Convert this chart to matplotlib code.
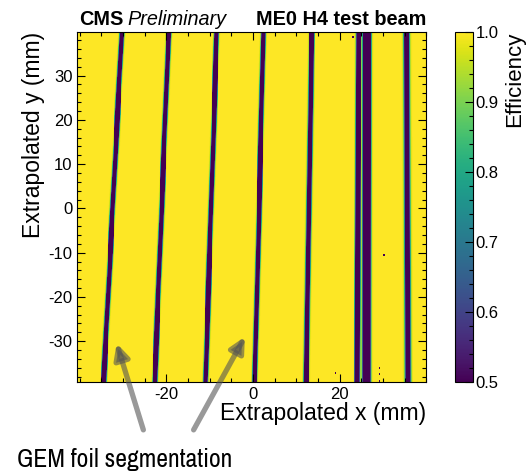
"""
Efficiency map of the ME0 chamber at the H4 test beam.
Inefficient strips come from the GEM foil sector gaps.
"""
import numpy as np
import matplotlib
matplotlib.use('Agg')
import matplotlib.pyplot as plt
from matplotlib import font_manager
from matplotlib.ticker import MultipleLocator

# Detector area covered by the tracks (mm)
x_range = (-40.6, 40.0)
y_range = (-39.2, 39.9)
bin_size = 0.2

# Gap centres at the top and bottom edge of the map (mm) and their half widths
gap_x_top = [-30.3, -19.5, -8.4, 2.4, 13.5, 24.4, 26.3, 35.4]
gap_x_bottom = [-34.5, -22.7, -11.0, 0.4, 12.3, 24.0, 26.2, 35.7]
gap_halfwidth = [0.5, 0.5, 0.5, 0.5, 0.52, 0.5, 0.9, 0.58]
gap_edge = [0.08, 0.08, 0.08, 0.08, 0.09, 0.09, 0.1, 0.12]

# Isolated dead bins (mm)
dead_x = [30.2, 18.9, 29.2, 29.2, 29.2, 22.9]
dead_y = [-10.7, -37.3, -36.0, -37.5, -39.0, 38.7]


def efficiency_map():
    xe = np.arange(x_range[0], x_range[1] + bin_size, bin_size)
    ye = np.arange(y_range[0], y_range[1] + bin_size, bin_size)
    xc = 0.5 * (xe[1:] + xe[:-1])
    yc = 0.5 * (ye[1:] + ye[:-1])
    X, Y = np.meshgrid(xc, yc)
    frac = (Y - y_range[0]) / (y_range[1] - y_range[0])

    eff = np.ones_like(X)
    for xt, xb, w, s in zip(gap_x_top, gap_x_bottom, gap_halfwidth, gap_edge):
        centre = xb + (xt - xb) * frac
        d = np.abs(X - centre)
        eff -= 0.75 / (1.0 + np.exp((d - w) / s))
    for dx, dy in zip(dead_x, dead_y):
        ix = np.argmin(np.abs(xc - dx))
        iy = np.argmin(np.abs(yc - dy))
        eff[iy:iy + 2, ix:ix + 2] = 0.3
    return xe, ye, np.clip(eff, 0.0, 1.0)


def narrow_family():
    # pick a narrow sans face for the annotation if one is installed
    names = [f.name for f in font_manager.fontManager.ttflist]
    for n in names:
        if 'Narrow' in n or 'Condensed' in n:
            return n
    for f in font_manager.fontManager.ttflist:
        if f.stretch in ('condensed', 'semi-condensed', 'extra-condensed'):
            return f.name
    return 'DejaVu Sans'


def main():
    plt.rcParams['font.family'] = ['Liberation Sans', 'DejaVu Sans']
    plt.rcParams['axes.unicode_minus'] = False

    fig = plt.figure(figsize=(5.29, 4.75), dpi=100)
    ax = fig.add_axes([0.146, 0.196, 0.660, 0.737])
    cax = fig.add_axes([0.860, 0.196, 0.0335, 0.737])

    xe, ye, eff = efficiency_map()
    mesh = ax.pcolormesh(xe, ye, eff, cmap='viridis', vmin=0.5, vmax=1.0,
                         shading='flat', rasterized=True)
    ax.set_xlim(*x_range)
    ax.set_ylim(*y_range)

    ax.xaxis.set_major_locator(MultipleLocator(20))
    ax.xaxis.set_minor_locator(MultipleLocator(5))
    ax.yaxis.set_major_locator(MultipleLocator(10))
    ax.yaxis.set_minor_locator(MultipleLocator(2))
    ax.tick_params(which='both', direction='in', top=True, right=True,
                   labelsize=12, width=0.8)
    ax.tick_params(which='major', length=6)
    ax.tick_params(which='minor', length=3)
    ax.tick_params(axis='x', pad=4)
    ax.set_xticks([-20, 0, 20])

    ax.set_xlabel('Extrapolated x (mm)', fontsize=16.5, loc='right', labelpad=0)
    ax.set_ylabel('Extrapolated y (mm)', fontsize=16.5, loc='top', labelpad=2)

    cb = fig.colorbar(mesh, cax=cax)
    cb.outline.set_linewidth(0.8)
    cb.set_ticks([0.5, 0.6, 0.7, 0.8, 0.9, 1.0])
    cb.ax.yaxis.set_minor_locator(MultipleLocator(0.02))
    cb.ax.tick_params(which='both', direction='in', labelsize=12, width=0.8, pad=2)
    cb.ax.tick_params(which='major', length=6)
    cb.ax.tick_params(which='minor', length=3)
    cb.set_label('Efficiency', fontsize=16, loc='top', labelpad=4)

    # Header
    ax.text(0.005, 1.019, 'CMS', transform=ax.transAxes, fontsize=14.3,
            fontweight='bold', ha='left', va='baseline')
    ax.text(0.145, 1.019, 'Preliminary', transform=ax.transAxes, fontsize=14.3,
            style='italic', ha='left', va='baseline')
    ax.text(1.0, 1.019, 'ME0 H4 test beam', transform=ax.transAxes, fontsize=14.3,
            fontweight='bold', ha='right', va='baseline')

    # Arrows pointing to two of the foil gaps
    arrow = dict(arrowstyle='-|>,head_length=0.9,head_width=0.45', color='#555555',
                 alpha=0.6, lw=3.8, shrinkA=0, shrinkB=0)
    ax.annotate('', xy=(-31.5, -30.5), xycoords='data',
                xytext=(0.271, 0.095), textcoords='figure fraction',
                arrowprops=arrow, annotation_clip=False)
    ax.annotate('', xy=(-1.9, -29.0), xycoords='data',
                xytext=(0.366, 0.095), textcoords='figure fraction',
                arrowprops=arrow, annotation_clip=False)
    fig.text(0.032, 0.017, 'GEM foil segmentation', fontsize=18.5,
             family=[narrow_family(), 'DejaVu Sans'], fontstretch='condensed',
             ha='left', va='baseline')

    fig.savefig('out.png', dpi=100)
    plt.close(fig)


if __name__ == '__main__':
    main()
